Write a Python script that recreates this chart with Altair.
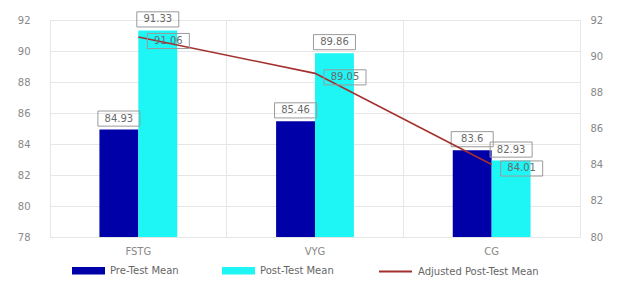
import altair as alt
import pandas as pd

groups = ["FSTG", "VYG", "CG"]
pre_mean = [84.93, 85.46, 83.6]
post_mean = [91.33, 89.86, 82.93]
adjusted_mean = [91.06, 89.05, 84.01]
series_names = ["Pre-Test Mean", "Post-Test Mean", "Adjusted Post-Test Mean"]
series_colors = ["#0000A8", "#1EF5F5", "#A3302E"]
left_ticks = [78, 80, 82, 84, 86, 88, 90, 92]
right_ticks = [80, 82, 84, 86, 88, 90, 92]

bars = pd.DataFrame(
    [{"Group": g, "Series": series_names[0], "Value": v} for g, v in zip(groups, pre_mean)]
    + [{"Group": g, "Series": series_names[1], "Value": v} for g, v in zip(groups, post_mean)]
)
bars["Label"] = bars["Value"].map(lambda v: f"{v:g}")
line = pd.DataFrame({"Group": groups, "Series": series_names[2], "Value": adjusted_mean})
line["Label"] = line["Value"].map(lambda v: f"{v:g}")

FONT = "DejaVu Sans"
box_shape = "M-1,-0.36 L1,-0.36 L1,0.36 L-1,0.36 Z"
swatch_shape = "M-1,-0.22 L1,-0.22 L1,0.22 L-1,0.22 Z"

x_enc = alt.X(
    "Group:N",
    sort=groups,
    title=None,
    scale=alt.Scale(paddingInner=0, paddingOuter=0),
    axis=alt.Axis(
        grid=True, bandPosition=0, gridColor="#e6e6e6", ticks=False, domain=False,
        labelAngle=0, labelPadding=9, labelColor="#888888", labelFontSize=10, labelFont=FONT,
    ),
)
# two empty slots around the bar pair keep the pair narrow inside each group
xoff = alt.XOffset("Series:N",
                   scale=alt.Scale(domain=["_l", series_names[0], series_names[1], "_r"],
                                   paddingInner=0, paddingOuter=0.27))

y_left = alt.Y(
    "Value:Q",
    title=None,
    scale=alt.Scale(domain=[78, 92], nice=False, zero=False),
    axis=alt.Axis(values=left_ticks, grid=True, gridColor="#e6e6e6", ticks=False, domain=False,
                  labelPadding=20, labelColor="#888888", labelFontSize=10, labelFont=FONT),
)
y_right = alt.Y(
    "Value:Q",
    title=None,
    scale=alt.Scale(domain=[80, 92], nice=False, zero=False),
    axis=alt.Axis(orient="right", values=right_ticks, grid=False, ticks=False, domain=False,
                  labelPadding=10, labelColor="#888888", labelFontSize=10, labelFont=FONT),
)

bar_legend = alt.Legend(
    title=None, orient="none", direction="horizontal", legendX=22, legendY=234,
    symbolType=swatch_shape, symbolSize=1089, symbolStrokeWidth=0, symbolOpacity=1,
    labelFont=FONT, labelFontSize=10, labelColor="#666666",
    columnPadding=43, labelOffset=5,
)
line_legend = alt.Legend(
    title=None, orient="none", direction="horizontal", legendX=328, legendY=234,
    symbolType="stroke", symbolSize=1089, symbolStrokeWidth=2,
    symbolStrokeColor=series_colors[2], symbolOpacity=1,
    labelFont=FONT, labelFontSize=10, labelColor="#666666",
    labelOffset=5,
)

base_bar = alt.Chart(bars)
bar_layer = base_bar.mark_bar(clip=True).encode(
    x=x_enc, xOffset=xoff, y=y_left,
    color=alt.Color("Series:N", sort=series_names[:2], legend=bar_legend,
                    scale=alt.Scale(domain=series_names[:2], range=series_colors[:2])),
)
bar_boxes = base_bar.mark_point(shape=box_shape, size=1764, filled=False, stroke="#9a9a9a",
                                strokeWidth=1, opacity=1, yOffset=-11).encode(
    x=x_enc, xOffset=xoff, y=y_left)
bar_text = base_bar.mark_text(dy=-11, font=FONT, fontSize=10, color="#6a6a6a").encode(
    x=x_enc, xOffset=xoff, y=y_left, text="Label:N")
left = alt.layer(bar_layer, bar_boxes, bar_text)

base_line = alt.Chart(line)
line_layer = base_line.mark_line(strokeWidth=1.6).encode(
    x=x_enc, y=y_right,
    stroke=alt.Stroke("Series:N", legend=line_legend,
                      scale=alt.Scale(domain=series_names[2:], range=series_colors[2:])),
)
line_boxes = base_line.mark_point(shape=box_shape, size=1764, filled=False, stroke="#9a9a9a",
                                  strokeWidth=1, opacity=1, xOffset=30, yOffset=4).encode(
    x=x_enc, y=y_right)
line_text = base_line.mark_text(dx=30, dy=4, font=FONT, fontSize=10, color="#6a6a6a").encode(
    x=x_enc, y=y_right, text="Label:N")
right = alt.layer(line_layer, line_boxes, line_text)

chart = alt.layer(left, right).resolve_scale(y="independent").properties(
    width=530, height=217,
    autosize=alt.AutoSizeParams(type="none"),
    padding={"left": 42, "top": 12, "right": 33, "bottom": 43},
    background="white",
).configure_view(stroke="#e6e6e6")

chart.save("out.html", embed_options={"renderer": "svg", "actions": False})
